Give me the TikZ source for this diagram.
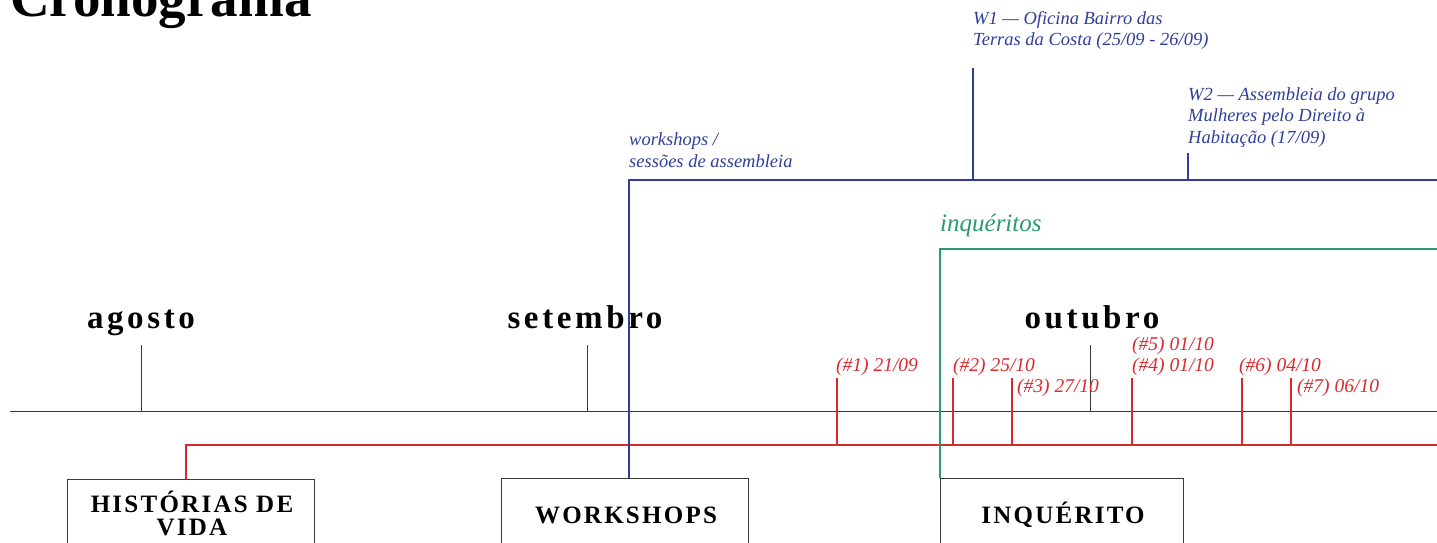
\documentclass[tikz,border=0pt]{standalone}
\usepackage{fontspec}
\setmainfont{Liberation Serif}
\newfontfamily\monthfont[LetterSpace=11]{Liberation Serif}
\newfontfamily\boxfont[LetterSpace=9]{Liberation Serif}
\definecolor{wsblue}{HTML}{2F3E9B}
\definecolor{hvred}{HTML}{D8292F}
\definecolor{inqgreen}{HTML}{2A9A6E}
\definecolor{axisgray}{HTML}{3A3A3A}
\begin{document}
\begin{tikzpicture}[x=1pt,y=-1pt,
  lbl/.style={inner sep=0pt, anchor=base west, font=\fontsize{18.5}{21.5}\selectfont\itshape, align=left},
  redlbl/.style={lbl, text=hvred, font=\fontsize{19.5}{21.5}\selectfont\itshape},
  month/.style={inner sep=0pt, anchor=base, font=\monthfont\bfseries\fontsize{33}{33}\selectfont},
  boxnode/.style={draw=axisgray, line width=1pt, anchor=north west, minimum width=247pt, minimum height=90pt, inner sep=0pt},
  boxtext/.style={inner sep=0pt, anchor=base, align=center, font=\boxfont\bfseries\fontsize{25}{23}\selectfont},
  axis/.style={axisgray, line width=1pt},
  redl/.style={hvred, line width=1.1pt},
  bluel/.style={wsblue, line width=1.1pt},
  greenl/.style={inqgreen, line width=1.2pt}]
\useasboundingbox (0,0) rectangle (1437,543);

% title
\node[inner sep=0pt, anchor=base west, font=\bfseries\fontsize{55}{55}\selectfont] (title) at (10,17) {Cronograma};

% main time axis
\coordinate (axL) at (10,411);
\coordinate (axR) at (1437,411);
\draw[axis] (axL) -- (axR);

% months
\node[month] (mago) at (141,328) {agosto};
\node[month] (mset) at (585,328) {setembro};
\node[month] (mout) at (1092,328) {outubro};
\coordinate (tago) at (141,345);
\coordinate (tset) at (587,345);
\coordinate (tout) at (1090,345);
\draw[axis] (tago) -- (tago |- axL);
\draw[axis] (tset) -- (tset |- axL);
\draw[axis] (tout) -- (tout |- axL);

% boxes
\node[boxnode] (hv) at (67,479) {};
\node[boxnode] (ws) at (501,478) {};
\node[boxnode, minimum width=243pt] (inq) at (940,478) {};
\node[boxtext] (hvt) at (192,535) {HISTÓRIAS DE\\VIDA};
\node[boxtext] (wst) at (626,523) {WORKSHOPS};
\node[boxtext] (inqt) at (1063,523) {INQUÉRITO};

% red: histórias de vida
\coordinate (rL) at (186,445);
\coordinate (rR) at (1437,445);
\draw[redl] (hv.north west -| rL) -- (rL) -- (rR);
\foreach \x/\nm in {837/r1, 953/r2, 1012/r3, 1132/r4, 1242/r6, 1291/r7}{
  \coordinate (\nm) at (\x,378);
  \draw[redl] (\nm) -- (\nm |- rL);
}
\node[redlbl] (l1) at (836,371) {(\#1) 21/09};
\node[redlbl] (l2) at (953,371) {(\#2) 25/10};
\node[redlbl] (l3) at (1017,392) {(\#3) 27/10};
\node[redlbl] (l5) at (1132,350) {(\#5) 01/10};
\node[redlbl] (l4) at (1132,371) {(\#4) 01/10};
\node[redlbl] (l6) at (1239,371) {(\#6) 04/10};
\node[redlbl] (l7) at (1297,392) {(\#7) 06/10};

% blue: workshops
\coordinate (bL) at (629,180);
\coordinate (bR) at (1437,180);
\draw[bluel] (ws.north west -| bL) -- (bL) -- (bR);
\coordinate (w1) at (973,68);
\coordinate (w2) at (1188,153);
\draw[bluel] (w1) -- (w1 |- bL);
\draw[bluel] (w2) -- (w2 |- bL);
\begin{scope}[lbl/.append style={text=wsblue}]
\node[lbl] (lws) at (629,167) {workshops /\\sessões de assembleia};
\node[lbl] (lw1) at (973,46) {W1 — Oficina Bairro das\\Terras da Costa (25/09 - 26/09)};
\node[lbl] (lw2) at (1188,143) {W2 — Assembleia do grupo\\Mulheres pelo Direito à\\Habitação (17/09)};
\end{scope}

% green: inquéritos
\coordinate (gL) at (940,249);
\coordinate (gR) at (1437,249);
\draw[greenl] (inq.north west -| gL) -- (gL) -- (gR);
\node[lbl, text=inqgreen, font=\fontsize{25}{28}\selectfont\itshape] (linq) at (940,231) {inquéritos};

\end{tikzpicture}
\end{document}
